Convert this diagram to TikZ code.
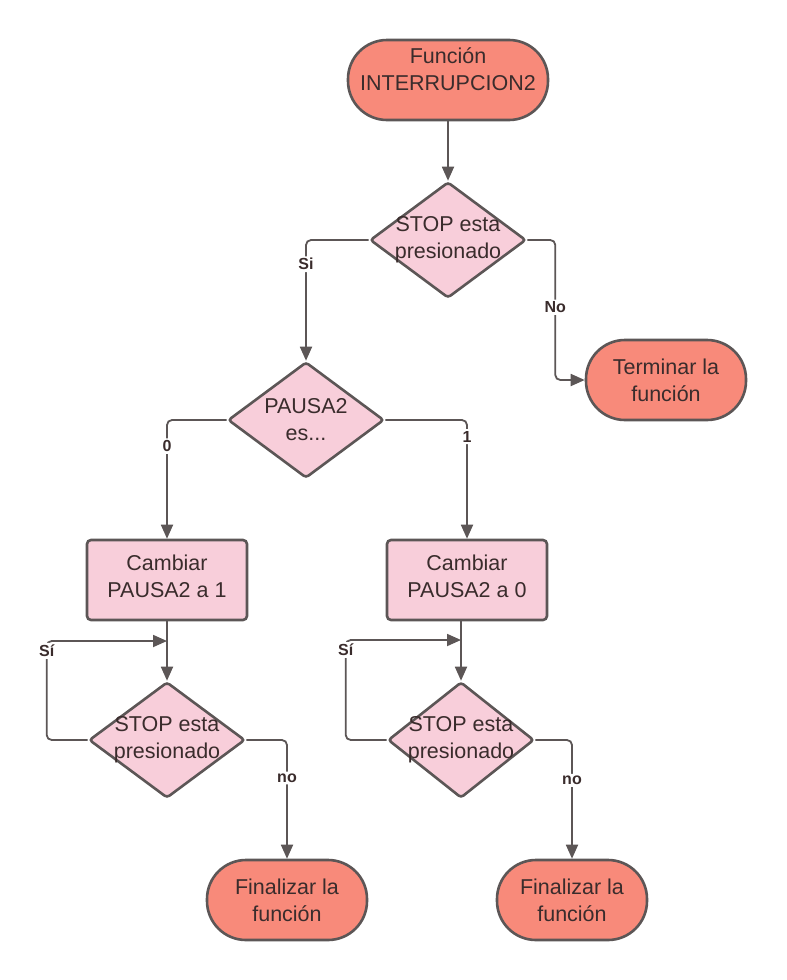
\documentclass[tikz,border=0pt]{standalone}
\usepackage{fontspec}
\setmainfont{Liberation Sans}
\usetikzlibrary{arrows.meta, positioning, calc, shapes.geometric}
\definecolor{salmonFill}{RGB}{248,138,122}
\definecolor{pinkFill}{RGB}{248,206,218}
\definecolor{edgeGray}{RGB}{92,86,86}
\definecolor{inkGray}{RGB}{58,44,44}
\tikzset{
    terminal/.style={
        rectangle,
        rounded corners=39pt,
        draw=edgeGray,
        fill=salmonFill,
        line width=2.6pt,
        minimum height=80pt,
        align=center,
        text=inkGray,
        font=\fontsize{21.5}{27}\selectfont
    },
    process/.style={
        rectangle,
        rounded corners=4pt,
        draw=edgeGray,
        fill=pinkFill,
        line width=2.6pt,
        minimum width=160pt,
        minimum height=80pt,
        align=center,
        text=inkGray,
        font=\fontsize{21.5}{27}\selectfont
    },
    decision/.style={
        diamond,
        draw=edgeGray,
        fill=pinkFill,
        line width=2.6pt,
        inner sep=0pt,
        minimum width=156pt,
        minimum height=116pt,
        rounded corners=3pt
    },
    dText/.style={
        align=center,
        text=inkGray,
        inner sep=0pt,
        font=\fontsize{21.5}{27}\selectfont
    },
    flow/.style={
        draw=edgeGray,
        line width=1.8pt,
        rounded corners=5pt,
        -{Triangle[length=14pt, width=12pt]}
    },
    edgeLabel/.style={
        fill=white,
        inner sep=2pt,
        text=inkGray,
        font=\fontsize{16}{18}\selectfont\bfseries
    }
}

\begin{document}
\begin{tikzpicture}[x=1pt, y=-1pt]

        % Canvas
        \useasboundingbox[fill=white] (0,0) rectangle (787,980);

        % Terminals
        \node[terminal, minimum width=200pt, label={[dText, yshift=11pt]center:Función\\INTERRUPCION2}] (start) at (448,80) {};
        \node[terminal, minimum width=160pt] (endA) at (666,380) {Terminar la\\función};
        \node[terminal, minimum width=160pt] (endL) at (287,900) {Finalizar la\\función};
        \node[terminal, minimum width=150pt] (endR) at (572,900) {Finalizar la\\función};

        % Decisions
        \node[decision, label={[dText]center:STOP esta\\presionado}] (stopA) at (448,240) {};
        \node[decision, label={[dText]center:PAUSA2\\es...}] (pausa) at (306,420) {};
        \node[decision, label={[dText]center:STOP esta\\presionado}] (stopL) at (167,740) {};
        \node[decision, minimum width=146pt, label={[dText]center:STOP esta\\presionado}] (stopR) at (461,740) {};

        % Processes
        \node[process, label={[dText, yshift=4pt]center:Cambiar\\PAUSA2 a 1}] (setOne) at (167,580) {};
        \node[process, label={[dText, yshift=4pt]center:Cambiar\\PAUSA2 a 0}] (setZero) at (467,580) {};

        % Loop junctions
        \coordinate (joinL) at (167,641);
        \coordinate (joinR) at (461,640);

        % Main flow
        \draw[flow] (start) -- (stopA);
        \draw[flow] (stopA.west) -| node[edgeLabel, pos=0.6] {Si} (pausa.north);
        \draw[flow] (stopA.east) -- ++(28,0) -- ++(0,140) node[edgeLabel, pos=0.48] {No} -- (endA.west);
        \draw[flow] (pausa.west) -| node[edgeLabel, pos=0.61] {0} (setOne.north);
        \draw[flow] (pausa.east) -| node[edgeLabel, pos=0.57] {1} (setZero.north);
        \draw[flow] (setOne) -- (stopL);
        \draw[flow] (setZero.south -| joinR) -- (stopR);

        % STOP loops
        \draw[flow] (stopL.west) -- ++(-41,0) -- ++(0,-99) node[edgeLabel, pos=0.9] {Sí} -- (joinL);
        \draw[flow] (stopR.west) -- ++(-41,0) -- ++(0,-100) node[edgeLabel, pos=0.9] {Sí} -- (joinR);
        \draw[flow] (stopL.east) -| node[edgeLabel, pos=0.66] {no} (endL.north);
        \draw[flow] (stopR.east) -| node[edgeLabel, pos=0.67] {no} (endR.north);

    \end{tikzpicture}
\end{document}
